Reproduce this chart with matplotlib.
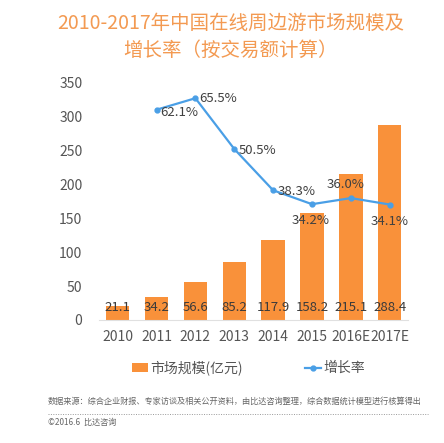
import matplotlib.pyplot as plt

plt.rcParams['font.family'] = ['Noto Sans CJK SC', 'DejaVu Sans']

# data
years = ['2010', '2011', '2012', '2013', '2014', '2015', '2016E', '2017E']
market = [21.1, 34.2, 56.6, 85.2, 117.9, 158.2, 215.1, 288.4]
growth_years = years[1:]
growth = [62.1, 65.5, 50.5, 38.3, 34.2, 36.0, 34.1]

bar_color = '#F9913A'
line_color = '#4A9FE6'
text_color = '#404040'

fig = plt.figure(figsize=(4.44, 4.43), dpi=100)
ax = fig.add_axes([0.223, 0.2777, 0.696, 0.535])

x = list(range(len(years)))
ax.bar(x, market, width=0.6, color=bar_color, zorder=2)
for i, v in enumerate(market):
    ax.text(i, 19, f'{v:.1f}', ha='center', va='center', fontsize=9.5, color='#3a3a3a', zorder=5)

ax.set_ylim(0, 350)
ax.set_xlim(-0.48, 7.47)
ax.set_yticks(range(0, 351, 50))
ax.set_xticks(x)
ax.set_xticklabels(years)
ax.tick_params(length=0, labelsize=10, colors='#555555')
ax.tick_params(axis='x', pad=7)
ax.tick_params(axis='y', pad=12)
for s in ['top', 'right', 'left']:
    ax.spines[s].set_visible(False)
ax.spines['bottom'].set_color('#E0E0E0')

ax2 = ax.twinx()
gx = [years.index(y) for y in growth_years]
ax2.plot(gx, growth, color=line_color, lw=1.6, marker='o', ms=3.5, zorder=3)
ax2.set_ylim(0, 70)
ax2.axis('off')

# label offsets in points (dx, dy)
offs = [(3, -2), (3, 0), (3, -1), (3, -1), (-1, -12), (-4, 10), (0, -12)]
has = ['left', 'left', 'left', 'left', 'center', 'center', 'center']
for xi, v, (dx, dy), h in zip(gx, growth, offs, has):
    ax2.annotate(f'{v:.1f}%', (xi, v), xytext=(dx, dy), textcoords='offset points',
                 ha=h, va='center', fontsize=9.5, color=text_color)

# title
fig.text(0.52, 0.948, '2010-2017年中国在线周边游市场规模及', ha='center', va='center',
         fontsize=14, color='#F39A52', fontweight='light')
fig.text(0.52, 0.887, '增长率（按交易额计算）', ha='center', va='center',
         fontsize=14, color='#F39A52', fontweight='light')

# legend
leg = ax.legend(handles=[ax.containers[0], ax2.lines[0]], labels=['市场规模(亿元)', '增长率'],
                loc='center', bbox_to_anchor=(0.56, 0.17), bbox_transform=fig.transFigure,
                ncol=2, frameon=False, fontsize=10, handlelength=1.1, handleheight=0.6,
                columnspacing=4.5, handletextpad=0.2, labelcolor='#555555')

# footnote
fig.text(0.108, 0.093, '数据来源：综合企业财报、专家访谈及相关公开资料，由比达咨询整理，综合数据统计模型进行核算得出',
         fontsize=5.9, color='#666666', va='center')
fig.add_artist(plt.Line2D([0.108, 0.965], [0.066, 0.066], transform=fig.transFigure,
                          color='#999999', lw=0.7, ls=(0, (1, 1.5))))
fig.text(0.108, 0.047, '©2016.6  比达咨询', fontsize=5.9, color='#666666', va='center')

fig.savefig('out.png', dpi=100)
